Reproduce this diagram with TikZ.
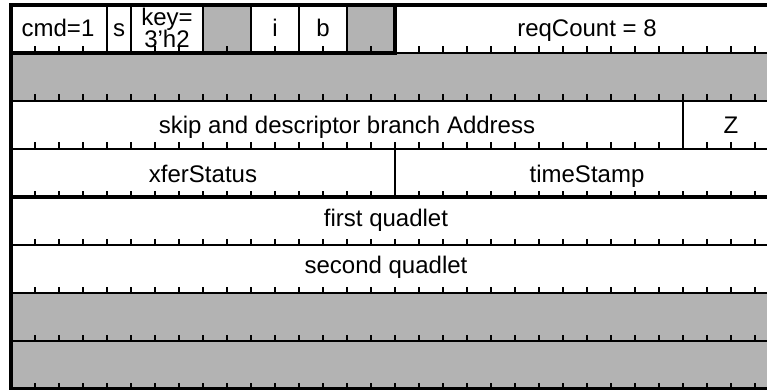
\documentclass[tikz,border=0pt]{standalone}
\usepackage{fontspec}
\setmainfont{Liberation Sans}
\definecolor{regGray}{HTML}{B3B3B3}
\begin{document}
\begin{tikzpicture}[x=1pt,y=-1pt,
  regthin/.style={line width=1.3pt},
  regthick/.style={line width=3.6pt,line cap=rect},
  regtick/.style={line width=1.2pt},
  reglbl/.style={font=\fontsize{24}{24}\selectfont, inner sep=0pt, anchor=base},
  regfill/.style={fill=regGray}]
\useasboundingbox (0,0) rectangle (767,390);
\clip (0,0) rectangle (767,390);
% fills
\fill[regfill] (203,5) rectangle (251,53);
\fill[regfill] (347,5) rectangle (395,53);
\fill[regfill] (11,53) rectangle (779,101);
\fill[regfill] (11,293) rectangle (779,389);
% thin horizontal lines
\draw[regthin] (395,53) -- (779,53);
\foreach \r in {101,149,245,293,341} \draw[regthin] (11,\r) -- (779,\r);
% thin vertical dividers
\foreach \c in {107,131,203,251,299,347} \draw[regthin] (\c,5) -- (\c,53);
\draw[regthin] (683,101) -- (683,149);
\draw[regthin] (395,149) -- (395,197);
% bit ticks
\foreach \r in {53,101,149,197,245,293,341,389}
  \foreach \k in {1,...,31}
    \draw[regtick] ({11+24*\k},\r) -- ++(0,-6.5);
% thick lines
\draw[regthick] (11,389) -- (11,5) -- (779,5);
\draw[regthick] (11,53) -- (395,53) -- (395,5);
\draw[regthick] (11,197) -- (779,197);
\draw[regthick] (11,389) -- (779,389);
% labels
\node[reglbl] (cmd) at (58,37) {cmd=1};
\node[reglbl] (s) at (119,37) {s};
\node[reglbl] (keya) at (167,26) {key=};
\node[reglbl] (keyb) at (167,48) {3’h2};
\node[reglbl] (i) at (275,37) {i};
\node[reglbl] (b) at (323,37) {b};
\node[reglbl] (req) at (587,37) {reqCount = 8};
\node[reglbl] (addr) at (347,134) {skip and descriptor branch Address};
\node[reglbl] (z) at (731,134) {Z};
\node[reglbl] (xfer) at (203,182) {xferStatus};
\node[reglbl] (ts) at (587,182) {timeStamp};
\node[reglbl] (q1) at (386,226) {first quadlet};
\node[reglbl] (q2) at (386,273) {second quadlet};
\end{tikzpicture}
\end{document}
